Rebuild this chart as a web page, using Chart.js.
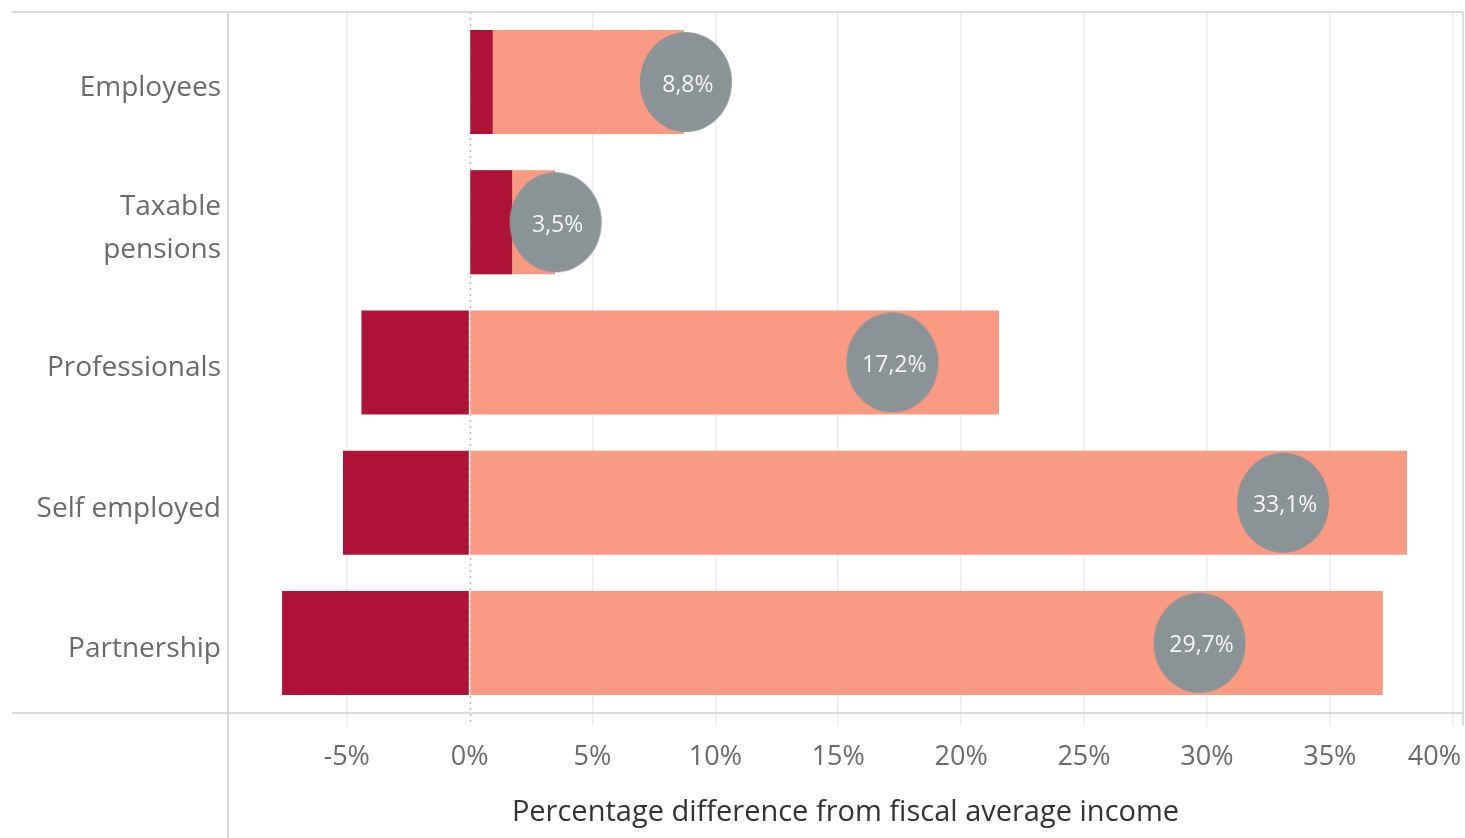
<!DOCTYPE html>
<html>
<head>
<meta charset="utf-8">
<script src="https://cdn.jsdelivr.net/npm/chart.js@4/dist/chart.umd.min.js"></script>
<style>
  html, body { margin: 0; padding: 0; background: #ffffff; }
  #wrap { width: 1465px; height: 838px; position: relative; }
</style>
</head>
<body>
<div id="wrap"><canvas id="c" width="1465" height="838"></canvas></div>
<script>
// ---- data ----
const categories = ['Employees', ['Taxable', 'pensions'], 'Professionals', 'Self employed', 'Partnership'];
const lowValues = [0.94, 1.73, -4.4, -5.15, -7.63];
const highValues = [8.73, 3.48, 21.54, 38.14, 37.16];
const averageValues = [8.8, 3.5, 17.2, 33.1, 29.7];
const tickValues = [-5, 0, 5, 10, 15, 20, 25, 30, 35, 40];
const axisTitle = 'Percentage difference from fiscal average income';

const FONT = '"Open Sans", "Noto Sans", sans-serif';

// ellipse marker image
const marker = document.createElement('canvas');
marker.width = 94; marker.height = 102;
(function () {
  const m = marker.getContext('2d');
  m.fillStyle = '#8a9396';
  m.beginPath();
  m.ellipse(47, 51, 46, 50, 0, 0, Math.PI * 2);
  m.fill();
})();

const decorPlugin = {
  id: 'decor',
  beforeDatasetsDraw(chart) {
    const ctx = chart.ctx;
    const xs = chart.scales.x;
    const a = chart.chartArea;
    ctx.save();
    const x0 = Math.round(xs.getPixelForValue(0)) + 0.5;
    ctx.strokeStyle = '#b8b8b8';
    ctx.lineWidth = 1.5;
    ctx.setLineDash([2, 4]);
    ctx.beginPath();
    ctx.moveTo(x0, a.top);
    ctx.lineTo(x0, a.bottom + 13);
    ctx.stroke();
    ctx.restore();
  },
  afterDraw(chart) {
    const ctx = chart.ctx;
    const xs = chart.scales.x;
    const a = chart.chartArea;
    ctx.save();
    // frame lines
    ctx.strokeStyle = '#d0d0d0';
    ctx.lineWidth = 1.5;
    ctx.beginPath();
    ctx.moveTo(12, a.top); ctx.lineTo(a.right, a.top);
    ctx.moveTo(12, a.bottom); ctx.lineTo(a.right, a.bottom);
    ctx.moveTo(a.left, a.top); ctx.lineTo(a.left, chart.height);
    ctx.moveTo(a.right, a.top); ctx.lineTo(a.right, a.bottom + 13);
    ctx.stroke();

    // tick labels
    ctx.font = '27px ' + FONT;
    ctx.fillStyle = '#6a6a6a';
    ctx.textBaseline = 'middle';
    tickValues.forEach(v => {
      const txt = v + '%';
      const x = xs.getPixelForValue(v);
      const w = ctx.measureText(txt).width;
      if (x + w / 2 > chart.width - 4) {
        ctx.textAlign = 'right';
        ctx.fillText(txt, chart.width - 4, a.bottom + 44);
      } else {
        ctx.textAlign = 'center';
        ctx.fillText(txt, x, a.bottom + 44);
      }
    });

    // axis title
    ctx.font = '29px ' + FONT;
    ctx.fillStyle = '#333333';
    ctx.textAlign = 'center';
    ctx.fillText(axisTitle, (a.left + a.right) / 2, a.bottom + 100);

    // labels inside markers
    const meta = chart.getDatasetMeta(0);
    ctx.font = '23px ' + FONT;
    ctx.fillStyle = '#f6f6f6';
    meta.data.forEach((pt, i) => {
      const txt = averageValues[i].toFixed(1).replace('.', ',') + '%';
      ctx.fillText(txt, pt.x + 2, pt.y + 3);
    });
    ctx.restore();
  }
};

new Chart(document.getElementById('c'), {
  type: 'bar',
  data: {
    labels: categories,
    datasets: [
      {
        type: 'line',
        indexAxis: 'y',
        data: averageValues,
        showLine: false,
        pointStyle: marker,
        pointRadius: 46,
        order: 0
      },
      {
        data: lowValues,
        backgroundColor: '#ad1237',
        grouped: false,
        barPercentage: 0.742,
        categoryPercentage: 1,
        order: 1
      },
      {
        data: highValues,
        backgroundColor: '#f99a83',
        grouped: false,
        barPercentage: 0.742,
        categoryPercentage: 1,
        order: 2
      }
    ]
  },
  options: {
    indexAxis: 'y',
    responsive: false,
    animation: false,
    events: [],
    layout: { autoPadding: false, padding: { top: 12, right: 2, left: 0, bottom: 0 } },
    plugins: { legend: { display: false }, tooltip: { enabled: false } },
    scales: {
      x: {
        type: 'linear',
        min: -9.83,
        max: 40.42,
        afterBuildTicks(scale) { scale.ticks = tickValues.map(v => ({ value: v })); },
        afterFit(scale) { scale.height = 125; scale.paddingLeft = 0; scale.paddingRight = 0; },
        ticks: { display: false },
        border: { display: false },
        grid: {
          color: ctx => (ctx.tick && ctx.tick.value === 0) ? 'rgba(0,0,0,0)' : '#ececec',
          lineWidth: 1.5,
          drawTicks: true,
          tickLength: 13
        }
      },
      y: {
        afterFit(scale) { scale.width = 228; scale.paddingTop = 0; scale.paddingBottom = 0; },
        border: { display: false },
        grid: { display: false, drawTicks: false },
        ticks: {
          color: '#6a6a6a',
          font: { family: FONT, size: 28, lineHeight: 1.55 },
          padding: 7,
          labelOffset: 6
        }
      }
    }
  },
  plugins: [decorPlugin]
});
</script>
</body>
</html>
